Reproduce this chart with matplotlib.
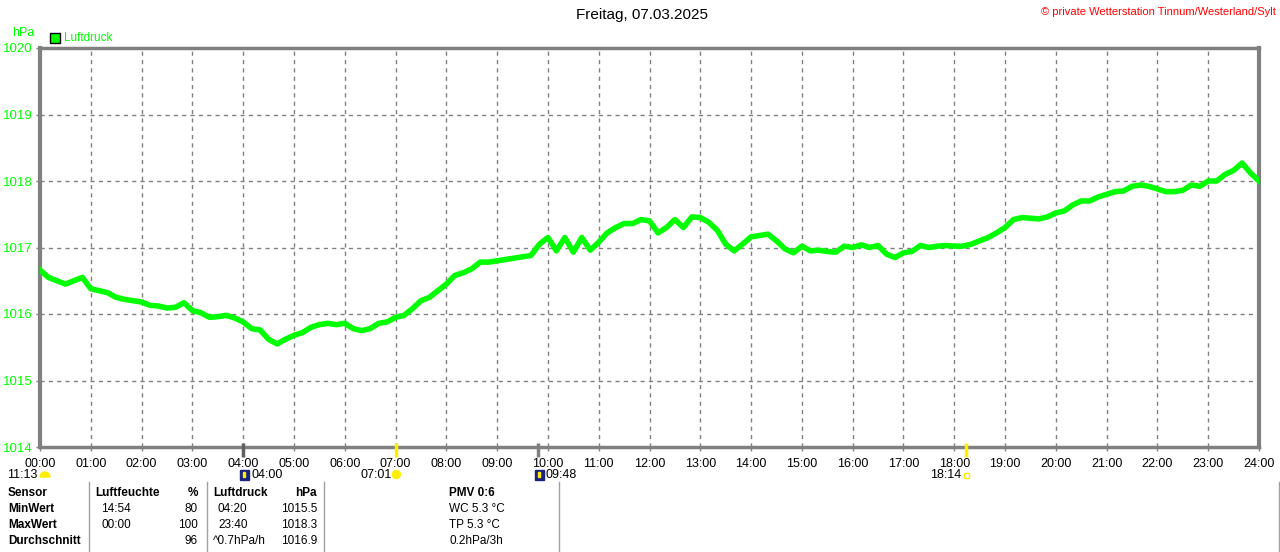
import matplotlib
matplotlib.use("Agg")
import matplotlib.pyplot as plt
import matplotlib.transforms as mtransforms
from matplotlib.patches import Rectangle
import numpy as np

plt.rcParams['font.family'] = ['Liberation Sans', 'DejaVu Sans']

# ---------------- data ----------------
# pressure (hPa) every 10 minutes from 00:00 to 24:00
pressure = [
    1016.66, 1016.55, 1016.50, 1016.45, 1016.50, 1016.55,
    1016.38, 1016.35, 1016.32, 1016.25, 1016.22, 1016.20,
    1016.18, 1016.13, 1016.12, 1016.09, 1016.10, 1016.17,
    1016.05, 1016.02, 1015.95, 1015.96, 1015.98, 1015.94,
    1015.88, 1015.78, 1015.76, 1015.62, 1015.55, 1015.62,
    1015.68, 1015.72, 1015.80, 1015.84, 1015.86, 1015.84,
    1015.86, 1015.78, 1015.75, 1015.78, 1015.86, 1015.88,
    1015.95, 1015.98, 1016.08, 1016.20, 1016.25, 1016.35,
    1016.45, 1016.58, 1016.62, 1016.68, 1016.78, 1016.78,
    1016.80, 1016.82, 1016.84, 1016.86, 1016.88, 1017.05,
    1017.15, 1016.95, 1017.15, 1016.93, 1017.15, 1016.96,
    1017.08, 1017.22, 1017.30, 1017.36, 1017.36, 1017.42,
    1017.40, 1017.22, 1017.30, 1017.42, 1017.30, 1017.46,
    1017.45, 1017.38, 1017.26, 1017.05, 1016.95, 1017.05,
    1017.16, 1017.18, 1017.20, 1017.10, 1016.98, 1016.92,
    1017.02, 1016.95, 1016.96, 1016.94, 1016.93, 1017.02,
    1017.00, 1017.04, 1017.00, 1017.03, 1016.90, 1016.85,
    1016.92, 1016.94, 1017.03, 1017.00, 1017.02, 1017.03,
    1017.02, 1017.02, 1017.05, 1017.10, 1017.15, 1017.22,
    1017.30, 1017.42, 1017.45, 1017.44, 1017.43, 1017.46,
    1017.52, 1017.55, 1017.64, 1017.70, 1017.70, 1017.76,
    1017.80, 1017.84, 1017.85, 1017.92, 1017.94, 1017.92,
    1017.88, 1017.84, 1017.84, 1017.86, 1017.94, 1017.92,
    1018.00, 1018.00, 1018.10, 1018.16, 1018.27, 1018.12,
    1018.00,
]
hours = np.arange(len(pressure)) / 6.0

x_tick_labels = ["%02d:00" % h for h in range(25)]
y_ticks = [1014, 1015, 1016, 1017, 1018, 1019, 1020]

# sun / moon events (hours, label)
event_hours = [0.0, 4.0, 7.0167, 9.8, 18.233]
event_labels = ["11:13", "04:00", "07:01", "09:48", "18:14"]

table_header = ["Sensor", "Luftfeuchte", "%", "Luftdruck", "hPa", "PMV 0:6"]
row_names = ["MinWert", "MaxWert", "Durchschnitt"]
hum_time = ["14:54", "00:00", ""]
hum_val = ["80", "100", "96"]
pres_time = ["04:20", "23:40", "^0.7hPa/h"]
pres_val = ["1015.5", "1018.3", "1016.9"]
extra = ["WC 5.3 °C", "TP 5.3 °C", "0.2hPa/3h"]

# ---------------- figure ----------------
W, H = 1280, 552
fig = plt.figure(figsize=(W / 100, H / 100), dpi=100)
ax = fig.add_axes([40 / W, 1 - 447 / H, (1259 - 40) / W, (447 - 48) / H])

green = "#00ff00"
gray = "#808080"

ax.plot(hours, pressure, color=green, lw=4.0, zorder=3)

ax.set_xlim(0, 24)
ax.set_ylim(1014, 1020)
ax.set_xticks(range(25))
ax.set_xticklabels(x_tick_labels, fontsize=9, color="black")
ax.set_yticks(y_ticks)
ax.set_yticklabels([str(v) for v in y_ticks], fontsize=9.5, color=green)
ax.tick_params(axis="both", length=3, width=1, color=gray, pad=2)
ax.tick_params(axis="x", pad=5)
ax.grid(True, color=gray, linestyle=(0, (3, 3)), lw=1)
for side, lw in [("left", 3), ("right", 3), ("top", 2.5), ("bottom", 2.5)]:
    ax.spines[side].set_color(gray)
    ax.spines[side].set_linewidth(lw)

# event ticks below axis
trans = mtransforms.blended_transform_factory(ax.transData, ax.transAxes)
tick_colors = [None, "#606060", "#ffee00", "#808080", "#ffee00"]
for h, c in zip(event_hours, tick_colors):
    if c is None:
        continue
    ax.plot([h, h], [0.01, -0.025], color=c, lw=2.5, transform=trans,
            clip_on=False, solid_capstyle="butt", zorder=5)


def fx(h):
    return fig.transFigure.inverted().transform(ax.transData.transform((h, 1014)))[0]


# event labels row
yrow = 1 - 474.5 / H
for h, lab in zip(event_hours, event_labels):
    xf = fx(h)
    if lab in ("11:13", "07:01", "18:14"):
        fig.text(xf - (3 if lab == "11:13" else 5) / W, yrow, lab,
                 ha="right", va="center", fontsize=9)
    else:
        fig.text(xf + 8 / W, yrow, lab, ha="left", va="center", fontsize=9)

# moon icon at 00:00 (yellow half disc)
fig.patches.append(matplotlib.patches.Wedge((fx(event_hours[0]) * W + 5, H - 477), 5, 0, 180,
                   color="#ffee00", transform=None))
# 04:00 and 09:48 dark blue squares
for h in (event_hours[1], event_hours[3]):
    px = fx(h) * W
    fig.patches.append(Rectangle((px - 3, H - 480), 9, 10, color="#1a237e", transform=None))
    fig.patches.append(Rectangle((px, H - 477), 2, 5, color="#ffee00", transform=None))
# sunrise 07:01
px = fx(event_hours[2]) * W
fig.patches.append(matplotlib.patches.Circle((px, H - 474.5), 4, color="#ffee00", transform=None))
# sunset 18:14 (small hollow square)
px = fx(event_hours[4]) * W
fig.patches.append(Rectangle((px - 2.5, H - 477.5), 5, 5, fill=False, ec="#ffee00", lw=1,
                             transform=None))

# title & labels
fig.text(642 / W, 1 - 15 / H, "Freitag, 07.03.2025", ha="center", va="center", fontsize=11)
fig.text(1276 / W, 1 - 12 / H, "© private Wetterstation Tinnum/Westerland/Sylt",
         ha="right", va="center", fontsize=8, color="red")
fig.text(12 / W, 1 - 33 / H, "hPa", ha="left", va="center", fontsize=9, color=green)
fig.patches.append(Rectangle((50, H - 43), 10, 10, fc=green, ec="black", lw=1, transform=None))
fig.text(64 / W, 1 - 38 / H, "Luftdruck", ha="left", va="center", fontsize=8.5, color=green)

# ---------------- table ----------------
for xs in (89, 207, 324, 559, 1279):
    fig.add_artist(plt.Line2D([xs / W, xs / W], [0, 1 - 482 / H], color="#a0a0a0", lw=1))

rows_y = [493, 509, 525, 541]
fs = 8.5
fig.text(8 / W, 1 - rows_y[0] / H, "Sensor", fontsize=fs, weight="bold", va="center")
fig.text(95 / W, 1 - rows_y[0] / H, "Luftfeuchte", fontsize=fs, weight="bold", va="center")
fig.text(198 / W, 1 - rows_y[0] / H, "%", fontsize=fs, weight="bold", va="center", ha="right")
fig.text(213 / W, 1 - rows_y[0] / H, "Luftdruck", fontsize=fs, weight="bold", va="center")
fig.text(317 / W, 1 - rows_y[0] / H, "hPa", fontsize=fs, weight="bold", va="center", ha="right")
fig.text(449 / W, 1 - rows_y[0] / H, "PMV 0:6", fontsize=fs, weight="bold", va="center")
for i, y in enumerate(rows_y[1:]):
    yy = 1 - y / H
    fig.text(8 / W, yy, row_names[i], fontsize=fs, weight="bold", va="center")
    fig.text(101 / W, yy, hum_time[i], fontsize=fs, va="center")
    fig.text(198 / W, yy, hum_val[i], fontsize=fs, va="center", ha="right")
    fig.text((213 if i == 2 else 218) / W, yy, pres_time[i], fontsize=fs, va="center")
    fig.text(317 / W, yy, pres_val[i], fontsize=fs, va="center", ha="right")
    fig.text(449 / W, yy, extra[i], fontsize=fs, va="center")

fig.savefig("out.png", dpi=100, facecolor="white")
